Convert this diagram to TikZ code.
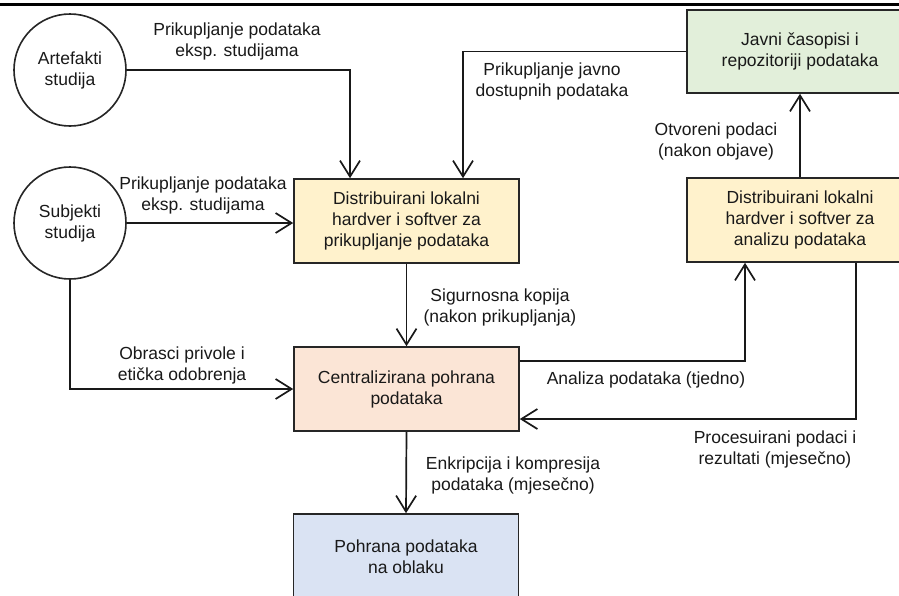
\documentclass[tikz,border=0pt]{standalone}
\usepackage{fontspec}
\setmainfont{Liberation Sans}
\usetikzlibrary{arrows.meta}
\definecolor{cyellow}{HTML}{FFF2CC}
\definecolor{cpeach}{HTML}{FBE5D6}
\definecolor{cgreen}{HTML}{E2EFDA}
\definecolor{cblue}{HTML}{DAE3F3}
\tikzset{
  txt/.style={font=\fontsize{17.5}{21}\selectfont, align=center, text=black!90},
  box/.style={txt, draw=black!85, line width=1.6pt, minimum width=225pt, minimum height=84pt, inner sep=0pt},
  circ/.style={txt, draw=black!85, line width=1.6pt, circle, minimum size=112pt, inner sep=0pt},
  lbl/.style={txt, inner sep=0pt},
  arr/.style={draw=black!90, line width=1.7pt, -{Straight Barb[length=16pt,width=20pt,line width=1.7pt]}},
  ln/.style={draw=black!90, line width=1.7pt}
}
\begin{document}
\begin{tikzpicture}[x=1pt,y=-1pt]
\useasboundingbox (0,0) rectangle (899,595);
\fill[white] (0,0) rectangle (899,595);
\draw[line width=3pt] (0,4.5) -- (899,4.5);

\node[circ] (art) at (70,70) {Artefakti\\studija};
\node[circ] (sub) at (70,223) {Subjekti\\studija};
\node[box, fill=cyellow] (box1) at (406.5,221) {Distribuirani lokalni\\hardver i softver za\\prikupljanje podataka};
\node[box, fill=cpeach] (centr) at (406.5,389) {Centralizirana pohrana\\podataka};
\node[box, fill=cblue, minimum height=86pt] (obl) at (406,557) {Pohrana podataka\\na oblaku};
\node[box, fill=cgreen, minimum width=226pt, minimum height=83pt] (green) at (800,51.5) {Javni časopisi i\\repozitoriji podataka};
\node[box, fill=cyellow, minimum width=226pt] (y2) at (800,220) {Distribuirani lokalni\\hardver i softver za\\analizu podataka};

\node[lbl] (l1) at (237,41) {Prikupljanje podataka\\eksp. studijama};
\node[lbl] (l2) at (552,81) {Prikupljanje javno\\dostupnih podataka};
\node[lbl] (l3) at (203,195) {Prikupljanje podataka\\eksp. studijama};
\node[lbl] (l4) at (182,365) {Obrasci privole i\\etička odobrenja};
\node[lbl] (l5) at (500,307) {Sigurnosna kopija\\(nakon prikupljanja)};
\node[lbl] (l6) at (646,380) {Analiza podataka (tjedno)};
\node[lbl] (l7) at (775,449) {Procesuirani podaci i\\rezultati (mjesečno)};
\node[lbl] (l8) at (513,475) {Enkripcija i kompresija\\podataka (mjesečno)};
\node[lbl] (l9) at (716,141) {Otvoreni podaci\\(nakon objave)};

\draw[arr] (art.east) -| ([xshift=-56.5pt]box1.north);
\draw[arr] (green.west) -| ([xshift=56.5pt]box1.north);
\draw[arr] (sub.east) -- (sub.east -| box1.west);
\draw[arr] (box1.south) -- (centr.north);
\draw[arr] (sub.south) |- (centr.west);
\draw[arr] ([yshift=28pt]centr.east) -| ([xshift=-55pt]y2.south);
\draw[arr] ([xshift=56pt]y2.south) |- ([yshift=-30pt]centr.east);
\draw[arr] (y2.north) -- (green.south);
\draw[arr] (centr.south) -- (obl.north);
\end{tikzpicture}
\end{document}
